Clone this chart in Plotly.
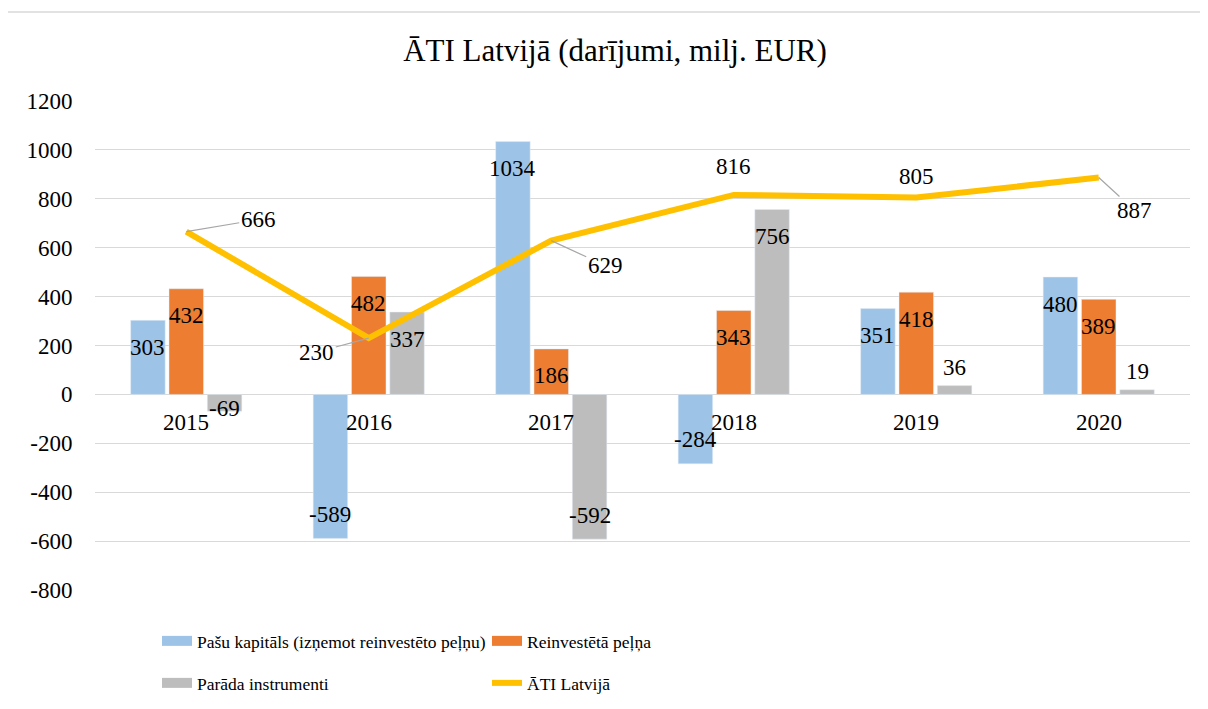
import plotly.graph_objects as go

# data ------------------------------------------------------------
YEARS = ["2015", "2016", "2017", "2018", "2019", "2020"]
PASU_KAPITALS = [303, -589, 1034, -284, 351, 480]
REINVESTETA_PELNA = [432, 482, 186, 343, 418, 389]
PARADA_INSTRUMENTI = [-69, 337, -592, 756, 36, 19]
ATI_LATVIJA = [666, 230, 629, 816, 805, 887]
Y_TICKS = [-800, -600, -400, -200, 0, 200, 400, 600, 800, 1000, 1200]

# label placement for the line (pixel offsets) and whether a leader line is drawn
LINE_LABEL_OFFSETS = [(72, -12), (-52, 14), (54, 25), (0, -28), (0, -21), (36, 33)]
LINE_LABEL_LEADER = [True, True, True, False, False, True]

FONT = "Liberation Serif, Times New Roman, serif"
BLUE, ORANGE, GREY, GOLD = "#9DC3E6", "#ED7D31", "#BDBDBD", "#FFC000"

# page body has an 8px margin, figure is laid out in its own coords
L, T, PW, PH = 87, 93, 1095, 489
BARGAP, GROUPGAP = 0.37, 0.1

fig = go.Figure()
bars = [
    ("Pašu kapitāls (izņemot reinvestēto peļņu)", PASU_KAPITALS, BLUE, "legend"),
    ("Reinvestētā peļņa", REINVESTETA_PELNA, ORANGE, "legend"),
    ("Parāda instrumenti", PARADA_INSTRUMENTI, GREY, "legend2"),
]
for name, vals, col, leg in bars:
    fig.add_bar(x=YEARS, y=vals, name=name, marker_color=col, showlegend=False)

fig.add_scatter(
    x=YEARS, y=ATI_LATVIJA, name="ĀTI Latvijā", mode="lines",
    line=dict(color=GOLD, width=6), showlegend=False,
)

# legend proxies (wide rectangular swatches like the original)
for name, vals, col, leg in bars:
    fig.add_scatter(x=[None], y=[None], mode="lines", name=name, legend=leg,
                    line=dict(color=col, width=10))
fig.add_scatter(x=[None], y=[None], mode="lines", name="ĀTI Latvijā", legend="legend2",
                line=dict(color=GOLD, width=6))

# bar value labels: inside near the bar end, above tiny bars
slot = PW / len(YEARS) * (1 - BARGAP) / len(bars)
for k, (name, vals, col, leg) in enumerate(bars):
    for i, v in enumerate(vals):
        if abs(v) >= 100:
            ys = -27 if v > 0 else 24
        else:
            ys = 18 if v > 0 else 3
        fig.add_annotation(
            x=i, y=v, text=str(v), showarrow=False, xshift=(k - 1) * slot, yshift=ys,
            font=dict(family=FONT, size=23, color="black"),
        )

# line value labels
for i, (v, (ax, ay), lead) in enumerate(zip(ATI_LATVIJA, LINE_LABEL_OFFSETS, LINE_LABEL_LEADER)):
    fig.add_annotation(
        x=i, y=v, text=str(v), showarrow=True, arrowhead=0, arrowwidth=1.2,
        arrowcolor="#A6A6A6" if lead else "rgba(0,0,0,0)",
        ax=ax, ay=ay, font=dict(family=FONT, size=23, color="black"),
    )

# category labels sit just under the zero line
for i, yr in enumerate(YEARS):
    fig.add_annotation(
        x=i, y=0, text=yr, showarrow=False, yanchor="middle", yshift=-28,
        font=dict(family=FONT, size=23, color="black"),
    )

# outer chart border
fig.add_shape(
    type="rect", xref="paper", yref="paper",
    x0=(5 - 8 - L) / PW, x1=(1205 - 8 - L) / PW,
    y0=(T + PH - 712) / PH, y1=(T + PH - 4) / PH,
    line=dict(color="#D9D9D9", width=1.5), layer="below",
)

leg_x = (157 - 8 - L) / PW
fig.update_layout(
    width=1200, height=701,
    margin=dict(l=L, r=1200 - L - PW, t=T, b=701 - T - PH, autoexpand=False),
    paper_bgcolor="white", plot_bgcolor="white",
    title=dict(text="ĀTI Latvijā (darījumi, milj. EUR)", x=(615 - 8) / 1200, xanchor="center",
               y=1 - (50 - 8) / 701, yanchor="middle",
               font=dict(family=FONT, size=31, color="black")),
    font=dict(family=FONT, size=20, color="black"),
    barmode="group", bargap=BARGAP, bargroupgap=GROUPGAP,
    showlegend=True,
    legend=dict(orientation="h", x=leg_x, xanchor="left",
                y=(T + PH - 641 + 8) / PH, yanchor="middle", entrywidth=285,
                font=dict(family=FONT, size=17.5, color="black"), bgcolor="rgba(0,0,0,0)"),
    legend2=dict(orientation="h", x=leg_x, xanchor="left",
                 y=(T + PH - 683 + 8) / PH, yanchor="middle", entrywidth=285,
                 font=dict(family=FONT, size=17.5, color="black"), bgcolor="rgba(0,0,0,0)"),
)
fig.update_xaxes(type="category", range=[-0.5, 5.5], showticklabels=False,
                 showgrid=False, zeroline=False, showline=False)
fig.update_yaxes(
    range=[-800, 1200], tickvals=Y_TICKS, ticktext=[str(t) for t in Y_TICKS],
    gridcolor="#D9D9D9", gridwidth=1.3, zeroline=True, zerolinecolor="#D9D9D9",
    zerolinewidth=1.3, showline=False, ticks="outside", ticklen=17,
    tickcolor="rgba(0,0,0,0)", tickfont=dict(family=FONT, size=23, color="black"),
)

fig.write_html("out.html")
